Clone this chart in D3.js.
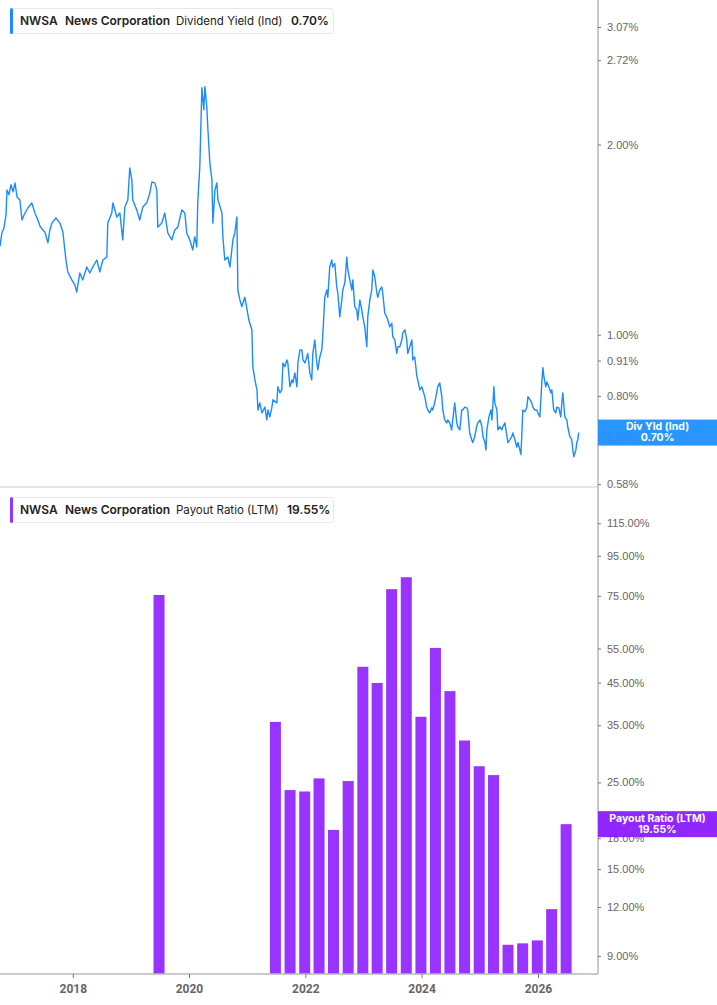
<!DOCTYPE html>
<html>
<head>
<meta charset="utf-8">
<script src="https://cdn.jsdelivr.net/npm/d3@7"></script>
<style>
  html, body { margin: 0; padding: 0; background: #fff; }
  svg { display: block; }
</style>
</head>
<body>
<svg id="chart" width="717" height="1005"></svg>
<script>
// dividend yield (ind), %
const yieldDates = [
  '2016-10-01','2016-10-13','2016-10-26','2016-11-08','2016-11-14','2016-11-26','2016-12-09','2016-12-22',
  '2017-01-03','2017-01-16','2017-02-03','2017-02-16','2017-03-01','2017-03-25','2017-04-19','2017-05-08',
  '2017-05-27','2017-06-09','2017-06-27','2017-07-10','2017-07-29','2017-08-10','2017-08-23','2017-09-17',
  '2017-10-12','2017-10-31','2017-11-19','2017-12-01','2017-12-26','2018-01-14','2018-01-26','2018-02-14',
  '2018-03-05','2018-03-30','2018-04-18','2018-05-07','2018-06-01','2018-06-20','2018-07-09','2018-08-03',
  '2018-08-09','2018-09-03','2018-09-10','2018-10-05','2018-10-24','2018-11-11','2018-11-24','2018-12-13',
  '2018-12-25','2019-01-07','2019-01-13','2019-02-07','2019-02-26','2019-03-17','2019-04-11','2019-04-30',
  '2019-05-13','2019-05-31','2019-06-13','2019-06-19','2019-07-14','2019-08-02','2019-08-21','2019-09-15',
  '2019-10-04','2019-10-23','2019-11-17','2019-12-06','2019-12-18','2020-01-06','2020-01-25','2020-02-06',
  '2020-02-19','2020-02-25','2020-03-09','2020-03-16','2020-03-22','2020-04-03','2020-04-10','2020-04-22',
  '2020-04-29','2020-05-11','2020-05-24','2020-05-30','2020-06-12','2020-06-24','2020-07-01','2020-07-26',
  '2020-08-01','2020-08-13','2020-09-01','2020-09-14','2020-10-03','2020-10-15','2020-10-28','2020-11-03',
  '2020-11-16','2020-11-28','2020-12-17','2020-12-31','2021-01-11','2021-01-30','2021-02-05','2021-02-18',
  '2021-03-03','2021-03-09','2021-03-21','2021-04-03','2021-04-22','2021-05-04','2021-05-11','2021-05-23',
  '2021-06-05','2021-06-11','2021-07-06','2021-07-12','2021-07-25','2021-08-06','2021-08-13','2021-08-25',
  '2021-09-07','2021-09-13','2021-09-26','2021-10-08','2021-10-15','2021-10-27','2021-11-09','2021-11-15',
  '2021-11-28','2021-12-10','2021-12-17','2021-12-29','2022-01-10','2022-01-16','2022-01-29','2022-02-10',
  '2022-02-17','2022-03-01','2022-03-14','2022-03-20','2022-04-02','2022-04-14','2022-04-20','2022-05-03',
  '2022-05-16','2022-05-22','2022-06-03','2022-06-16','2022-06-22','2022-07-05','2022-07-17','2022-07-24',
  '2022-08-05','2022-08-18','2022-08-24','2022-09-06','2022-09-18','2022-09-25','2022-10-07','2022-10-20',
  '2022-10-26','2022-11-07','2022-11-20','2022-11-26','2022-12-09','2022-12-21','2022-12-28','2023-01-09',
  '2023-01-22','2023-01-28','2023-02-10','2023-02-22','2023-03-01','2023-03-13','2023-03-26','2023-04-01',
  '2023-04-13','2023-04-26','2023-05-02','2023-05-15','2023-05-27','2023-06-03','2023-06-15','2023-06-28',
  '2023-07-04','2023-07-17','2023-07-29','2023-08-05','2023-08-17','2023-08-30','2023-09-05','2023-09-18',
  '2023-09-30','2023-10-06','2023-10-19','2023-11-01','2023-11-07','2023-11-19','2023-12-02','2023-12-08',
  '2023-12-21','2024-01-02','2024-01-08','2024-01-21','2024-02-02','2024-02-09','2024-02-21','2024-03-05',
  '2024-03-11','2024-03-23','2024-04-05','2024-04-11','2024-04-24','2024-05-07','2024-05-13','2024-05-25',
  '2024-06-07','2024-06-13','2024-06-26','2024-07-08','2024-07-15','2024-07-27','2024-08-09','2024-08-15',
  '2024-08-28','2024-09-09','2024-09-15','2024-09-28','2024-10-11','2024-10-17','2024-10-29','2024-11-11',
  '2024-11-17','2024-11-30','2024-12-12','2024-12-19','2025-01-02','2025-01-14','2025-01-20','2025-02-02',
  '2025-02-08','2025-02-14','2025-02-27','2025-03-11','2025-03-18','2025-03-30','2025-04-05','2025-04-18',
  '2025-04-24','2025-05-07','2025-05-19','2025-05-26','2025-06-07','2025-06-20','2025-06-26','2025-07-09',
  '2025-07-21','2025-07-27','2025-08-09','2025-08-21','2025-08-28','2025-09-09','2025-09-16','2025-09-22',
  '2025-09-28','2025-10-11','2025-10-23','2025-10-30','2025-11-11','2025-11-23','2025-11-30','2025-12-12',
  '2025-12-25','2026-01-01','2026-01-13','2026-01-25','2026-02-01','2026-02-07','2026-02-19','2026-02-26',
  '2026-03-10','2026-03-23','2026-03-29','2026-04-10','2026-04-23','2026-04-29','2026-05-12','2026-05-24',
  '2026-05-31','2026-06-06','2026-06-19','2026-07-01','2026-07-07','2026-07-20','2026-08-01','2026-08-08',
  '2026-08-14','2026-08-27','2026-09-02','2026-09-08','2026-09-14'
];
const yieldValues = [
  1.38,1.45,1.475,1.55,1.695,1.665,1.727,1.683,
  1.739,1.652,1.634,1.519,1.547,1.587,1.617,1.558,
  1.519,1.486,1.465,1.454,1.398,1.465,1.502,1.530,
  1.502,1.454,1.313,1.257,1.221,1.199,1.168,1.252,
  1.221,1.280,1.252,1.280,1.313,1.257,1.313,1.327,
  1.502,1.558,1.617,1.536,1.558,1.413,1.593,1.634,
  1.837,1.758,1.634,1.576,1.519,1.593,1.617,1.676,
  1.745,1.739,1.695,1.480,1.502,1.558,1.449,1.413,
  1.465,1.480,1.576,1.558,1.449,1.413,1.362,1.428,
  1.377,1.617,1.844,2.150,2.460,2.270,2.470,2.290,
  2.110,1.870,1.758,1.502,1.695,1.739,1.634,1.558,
  1.428,1.313,1.327,1.280,1.413,1.449,1.536,1.177,
  1.135,1.108,1.146,1.095,1.055,1.018,0.890,0.848,
  0.818,0.760,0.780,0.752,0.768,0.733,0.760,0.741,
  0.768,0.789,0.780,0.827,0.809,0.818,0.902,0.890,
  0.912,0.902,0.827,0.848,0.839,0.870,0.827,0.902,
  0.946,0.946,0.912,0.902,0.922,0.934,0.870,0.848,
  0.934,0.981,0.902,0.880,0.922,0.946,0.992,1.146,
  1.177,1.146,1.280,1.313,1.280,1.296,1.190,1.164,
  1.067,1.135,1.177,1.208,1.327,1.266,1.221,1.177,
  1.221,1.108,1.095,1.055,1.135,1.095,1.067,1.029,
  0.957,1.067,1.135,1.177,1.266,1.235,1.164,1.146,
  1.177,1.190,1.164,1.081,1.067,1.055,1.029,1.043,
  0.992,0.981,0.934,0.957,0.957,0.981,1.007,1.018,
  0.981,0.934,0.957,0.981,0.912,0.922,0.861,0.848,
  0.818,0.827,0.818,0.798,0.768,0.760,0.752,0.766,
  0.760,0.780,0.809,0.827,0.839,0.798,0.760,0.733,
  0.725,0.733,0.725,0.707,0.733,0.780,0.725,0.715,
  0.707,0.760,0.760,0.768,0.766,0.760,0.699,0.682,
  0.675,0.690,0.715,0.725,0.733,0.715,0.690,0.675,
  0.657,0.707,0.741,0.760,0.733,0.827,0.780,0.760,
  0.707,0.715,0.707,0.715,0.725,0.690,0.675,0.682,
  0.690,0.699,0.682,0.664,0.675,0.657,0.646,0.699,
  0.760,0.755,0.768,0.798,0.789,0.780,0.768,0.760,
  0.760,0.752,0.741,0.839,0.887,0.858,0.827,0.842,
  0.827,0.809,0.818,0.760,0.752,0.768,0.766,0.741,
  0.780,0.809,0.741,0.733,0.715,0.690,0.682,0.657,
  0.641,0.657,0.675,0.682,0.700
];

// payout ratio (LTM), %
const payoutDates = [
  '2019-06-30','2021-06-30','2021-09-30','2021-12-31','2022-03-31','2022-06-30','2022-09-30',
  '2022-12-31','2023-03-31','2023-06-30','2023-09-30','2023-12-31','2024-03-31','2024-06-30',
  '2024-09-30','2024-12-31','2025-03-31','2025-06-30','2025-09-30','2025-12-31','2026-03-31','2026-06-30'
];
const payoutValues = [
  75.4, 35.7, 23.9, 23.7, 25.6, 18.9, 25.2,
  49.4, 44.9, 78.0, 83.7, 36.8, 55.2, 42.8,
  32.0, 27.5, 26.1, 9.61, 9.69, 9.86, 11.85, 19.55
];

const yieldTicks = [3.07, 2.72, 2.00, 1.00, 0.91, 0.80, 0.69, 0.58];
const payoutTicks = [115, 95, 75, 55, 45, 35, 25, 18, 15, 12, 9];
const yearTicks = [2018, 2020, 2022, 2024, 2026];

const BLUE = '#1a8cff';
const PURPLE = '#9933ff';
const plotW = 598;

const svg = d3.select('#chart');
const parse = d3.timeParse('%Y-%m-%d');

const x = d3.scaleTime()
  .domain([new Date(2016, 9, 1), new Date(2027, 0, 13)])
  .range([0, plotW]);

const yTop = d3.scaleLog().domain([0.574, 3.387]).range([487, 0]);
const yBot = d3.scaleLog().domain([8.09, 139.9]).range([974, 490]);

// clip for the upper panel
svg.append('defs').append('clipPath').attr('id', 'clipTop')
  .append('rect').attr('x', 0).attr('y', 0).attr('width', plotW).attr('height', 487);

// panel separator
svg.append('line')
  .attr('x1', 0).attr('x2', plotW).attr('y1', 487).attr('y2', 487)
  .attr('stroke', '#dcdcdc').attr('stroke-width', 1.5);

// yield line
const yieldData = yieldDates.map((d, i) => ({ date: parse(d), value: yieldValues[i] }));
const line = d3.line()
  .x(d => x(d.date))
  .y(d => yTop(d.value));

svg.append('path')
  .datum(yieldData)
  .attr('clip-path', 'url(#clipTop)')
  .attr('fill', 'none')
  .attr('stroke', BLUE)
  .attr('stroke-width', 1.4)
  .attr('stroke-linejoin', 'round')
  .attr('d', line);

// payout bars
const payoutData = payoutDates.map((d, i) => ({ date: parse(d), value: payoutValues[i] }));
const barW = 11;
svg.append('g')
  .selectAll('rect')
  .data(payoutData)
  .enter()
  .append('rect')
  .attr('x', d => x(d.date) - barW / 2 - 0.5)
  .attr('y', d => yBot(d.value))
  .attr('width', barW)
  .attr('height', d => yBot.range()[0] - yBot(d.value))
  .attr('fill', PURPLE);

// axis lines
svg.append('line')
  .attr('x1', plotW).attr('x2', plotW).attr('y1', 0).attr('y2', 974)
  .attr('stroke', '#b8b8b8').attr('stroke-width', 1.5);
svg.append('line')
  .attr('x1', 0).attr('x2', plotW).attr('y1', 974).attr('y2', 974)
  .attr('stroke', '#b8b8b8').attr('stroke-width', 1.5);

const pct = d => d.toFixed(2) + '%';

function styleAxis(g) {
  g.select('.domain').remove();
  g.selectAll('.tick line').attr('stroke', '#777').attr('stroke-width', 1);
  g.selectAll('.tick text')
    .attr('fill', '#666')
    .style('font-family', '"Liberation Sans", Arial, sans-serif')
    .style('font-size', '11px');
}

svg.append('g')
  .attr('transform', `translate(${plotW},0)`)
  .call(d3.axisRight(yTop).tickValues(yieldTicks).tickSize(3).tickPadding(6).tickFormat(pct))
  .call(styleAxis);

svg.append('g')
  .attr('transform', `translate(${plotW},0)`)
  .call(d3.axisRight(yBot).tickValues(payoutTicks).tickSize(3).tickPadding(6).tickFormat(pct))
  .call(styleAxis);

const xAxis = svg.append('g')
  .attr('transform', 'translate(0,974)')
  .call(d3.axisBottom(x)
    .tickValues(yearTicks.map(yr => new Date(yr, 0, 1)))
    .tickSize(4).tickPadding(6)
    .tickFormat(d3.timeFormat('%Y')))
  .call(styleAxis);
xAxis.selectAll('.tick text')
  .style('font-family', 'Roboto, sans-serif')
  .style('font-size', '12px')
  .style('font-weight', 'bold');

// panel headers
function header(top, color, parts) {
  const g = svg.append('g');
  g.append('rect')
    .attr('x', 10.5).attr('y', top + 0.5).attr('width', 323).attr('height', 25)
    .attr('rx', 3).attr('fill', '#fff').attr('stroke', '#e8e8e8');
  g.append('rect')
    .attr('x', 10).attr('y', top).attr('width', 3).attr('height', 26)
    .attr('rx', 1.5).attr('fill', color);
  g.selectAll('text')
    .data(parts)
    .enter()
    .append('text')
    .attr('x', d => d.x)
    .attr('y', top + 17)
    .attr('fill', '#222')
    .style('font-family', 'Inter, sans-serif')
    .style('font-size', d => (d.bold ? '12px' : '11.5px'))
    .style('font-weight', d => (d.bold ? 600 : 400))
    .text(d => d.t);
}

header(8, BLUE, [
  { t: 'NWSA', x: 20, bold: true },
  { t: 'News Corporation', x: 65, bold: true },
  { t: 'Dividend Yield (Ind)', x: 176, bold: false },
  { t: '0.70%', x: 291, bold: true }
]);
header(497, PURPLE, [
  { t: 'NWSA', x: 20, bold: true },
  { t: 'News Corporation', x: 65, bold: true },
  { t: 'Payout Ratio (LTM)', x: 176, bold: false },
  { t: '19.55%', x: 287, bold: true }
]);

// last value tags
function tag(yc, color, label, value) {
  const g = svg.append('g');
  g.append('rect')
    .attr('x', plotW).attr('y', yc - 13).attr('width', 717 - plotW).attr('height', 26)
    .attr('fill', color).attr('fill-opacity', 0.95);
  g.selectAll('text')
    .data([label, value])
    .enter()
    .append('text')
    .attr('x', 657.5)
    .attr('y', (d, i) => yc - 2.5 + i * 11)
    .attr('text-anchor', 'middle')
    .attr('fill', '#fff')
    .style('font-family', 'Inter, sans-serif')
    .style('font-size', '10.5px')
    .style('font-weight', 700)
    .text(d => d);
}

const lastYield = yieldValues[yieldValues.length - 1];
const lastPayout = payoutValues[payoutValues.length - 1];
tag(yTop(lastYield), '#1e90ff', 'Div Yld (Ind)', pct(lastYield));
tag(yBot(lastPayout), '#8c1aff', 'Payout Ratio (LTM)', pct(lastPayout));
</script>
</body>
</html>
